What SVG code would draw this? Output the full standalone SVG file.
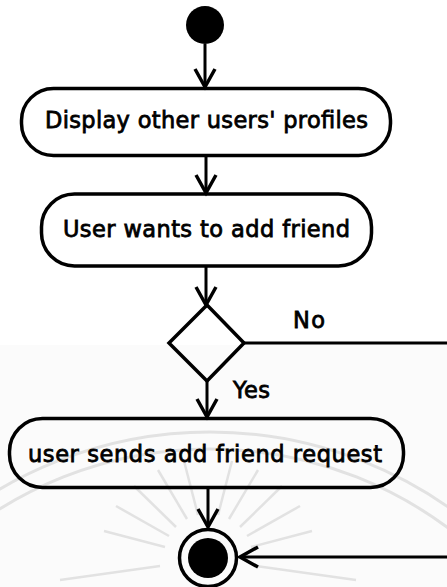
<svg xmlns="http://www.w3.org/2000/svg" width="447" height="587" viewBox="0 0 447 587">
  <style>
    .shape { fill: none; stroke: #000; stroke-width: 3.5; }
    .edge { fill: none; stroke: #000; stroke-width: 3; }
    .lbl { font-family: "DejaVu Sans", "Open Sans", sans-serif; font-size: 22.5px; fill: #000; stroke: #000; stroke-width: 0.8; }
    .wm { fill: none; stroke: #e2e2e2; stroke-width: 3; }
  </style>
  <defs>
    <marker id="arr" markerUnits="userSpaceOnUse" markerWidth="26" markerHeight="26" viewBox="0 0 26 26" refX="22" refY="13" orient="auto">
      <path d="M4,3 L22,13 L4,23" fill="none" stroke="#000" stroke-width="3.5" stroke-linejoin="miter"/>
    </marker>
  </defs>
  <rect x="0" y="0" width="447" height="587" fill="#ffffff"/>
  <rect x="0" y="345" width="447" height="242" fill="#fbfbfb"/>
  <g id="watermark">
    <circle class="wm" cx="210" cy="847" r="415"/>
    <circle class="wm" cx="210" cy="847" r="398"/>
    <g stroke="#e2e2e2" stroke-width="2.5">
      <line x1="251" y1="547" x2="312" y2="531"/>
      <line x1="247" y1="536" x2="300" y2="506"/>
      <line x1="240" y1="527" x2="282" y2="486"/>
      <line x1="229" y1="519" x2="258" y2="470"/>
      <line x1="218" y1="515" x2="232" y2="461"/>
      <line x1="198" y1="515" x2="184" y2="461"/>
      <line x1="187" y1="519" x2="158" y2="470"/>
      <line x1="176" y1="527" x2="134" y2="486"/>
      <line x1="169" y1="536" x2="116" y2="506"/>
      <line x1="165" y1="547" x2="104" y2="531"/>
      <line x1="160" y1="566" x2="60" y2="580"/>
      <line x1="256" y1="566" x2="356" y2="580"/>
    </g>
  </g>
  <g id="connectors">
    <line class="edge" x1="205" y1="44" x2="205" y2="87" marker-end="url(#arr)"/>
    <line class="edge" x1="206" y1="157" x2="206" y2="193" marker-end="url(#arr)"/>
    <line class="edge" x1="206" y1="267" x2="206" y2="305" marker-end="url(#arr)"/>
    <line class="edge" x1="207" y1="381" x2="207" y2="417" marker-end="url(#arr)"/>
    <line class="edge" x1="208" y1="488" x2="208" y2="527" marker-end="url(#arr)"/>
    <polyline class="edge" points="244,343 447,343"/>
    <line class="edge" x1="447" y1="557" x2="240" y2="557" marker-end="url(#arr)"/>
    <text class="lbl" x="293" y="328" textLength="32">No</text>
    <text class="lbl" x="233" y="398" textLength="37">Yes</text>
  </g>
  <g id="start">
    <circle cx="205" cy="25" r="19" fill="#000"/>
  </g>
  <g id="display-profiles">
    <rect class="shape" x="21.5" y="88.5" width="369" height="67" rx="32"/>
    <text class="lbl" x="45" y="128" textLength="323">Display other users' profiles</text>
  </g>
  <g id="wants-add-friend">
    <rect class="shape" x="41.5" y="194" width="330" height="72" rx="33"/>
    <text class="lbl" x="63" y="237" textLength="287">User wants to add friend</text>
  </g>
  <g id="decision">
    <polygon class="shape" points="207,305 244,343 207,381 169,343"/>
  </g>
  <g id="send-request">
    <rect class="shape" x="9.5" y="418.5" width="394" height="69" rx="33"/>
    <text class="lbl" x="28" y="462" textLength="354">user sends add friend request</text>
  </g>
  <g id="end">
    <circle class="shape" cx="208" cy="558" r="28.5" stroke-width="3"/>
    <circle cx="208" cy="558" r="20" fill="#000"/>
  </g>
</svg>
